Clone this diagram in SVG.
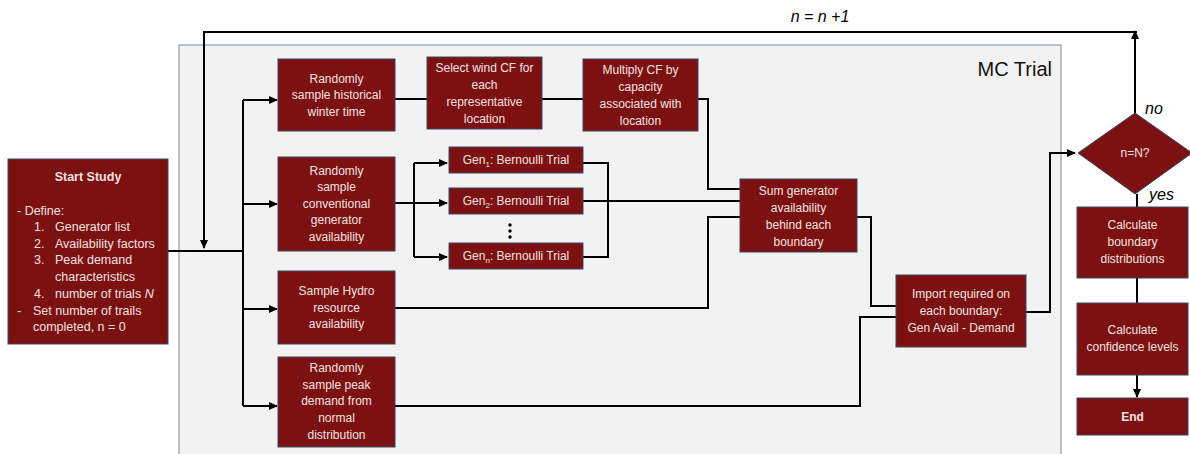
<svg xmlns="http://www.w3.org/2000/svg" width="1190" height="454" viewBox="0 0 1190 454">
<defs>
<style>
.box{fill:#7b1111;stroke:#3a4660;stroke-width:1}
.t{font-family:"Liberation Sans",Arial,sans-serif;font-size:12px;fill:#f3e1e0;text-anchor:middle}
.tl{font-family:"Liberation Sans",Arial,sans-serif;font-size:12.5px;fill:#f3e1e0}
.b{font-weight:bold}
.ln{fill:none;stroke:#000;stroke-width:2}
.lab{font-family:"Liberation Sans",Arial,sans-serif;font-style:italic;font-size:16px;fill:#000}
</style>
<marker id="ah" markerUnits="userSpaceOnUse" markerWidth="9" markerHeight="8" refX="8" refY="4" orient="auto">
<path d="M0,0 L9,4 L0,8 z" fill="#000"/>
</marker>
</defs>
<rect width="1190" height="454" fill="#fff"/>
<g id="mc-trial">
<rect x="179" y="45" width="882" height="412" fill="#f2f2f2" stroke="#8a9bb3" stroke-width="1.2"/>
<text x="1052" y="76" font-family="Liberation Sans,Arial,sans-serif" font-size="20" text-anchor="end" fill="#111">MC Trial</text>
</g>
<g id="connectors">
<path class="ln" d="M1135,113 L1135,31" marker-end="url(#ah)"/>
<path class="ln" d="M1137,32 L204,32 L204,248" marker-end="url(#ah)"/>
<path class="ln" d="M168,251 L243,251"/>
<path class="ln" d="M243,100 L243,406"/>
<path class="ln" d="M243,100 L277,100" marker-end="url(#ah)"/>
<path class="ln" d="M243,204 L277,204" marker-end="url(#ah)"/>
<path class="ln" d="M243,309 L277,309" marker-end="url(#ah)"/>
<path class="ln" d="M243,406 L277,406" marker-end="url(#ah)"/>
<path class="ln" d="M395,99 L427,99"/>
<path class="ln" d="M542,99 L583,99"/>
<path class="ln" d="M698,99 L708,99 L708,189 L740,189"/>
<path class="ln" d="M395,203 L447,203" marker-end="url(#ah)"/>
<path class="ln" d="M414,163 L414,257"/>
<path class="ln" d="M414,163 L447,163" marker-end="url(#ah)"/>
<path class="ln" d="M414,257 L447,257" marker-end="url(#ah)"/>
<path class="ln" d="M583,163 L608,163 L608,257 L583,257"/>
<path class="ln" d="M583,201 L740,201"/>
<path class="ln" d="M395,308 L708,308 L708,217 L740,217"/>
<path class="ln" d="M857,217 L871,217 L871,306 L896,306"/>
<path class="ln" d="M395,406 L860,406 L860,317 L896,317"/>
<path class="ln" d="M1026,312 L1050,312 L1050,153 L1075,153" marker-end="url(#ah)"/>
<path class="ln" d="M1137,194 L1137,207"/>
<path class="ln" d="M1137,278 L1137,303"/>
<path class="ln" d="M1137,375 L1137,397" marker-end="url(#ah)"/>
</g>
<g id="labels">
<text class="lab" x="820" y="22" text-anchor="middle">n = n +1</text>
<text class="lab" x="1145" y="114">no</text>
<text class="lab" x="1149" y="200">yes</text>
</g>
<g id="start">
<rect class="box" x="8" y="159" width="160" height="185"/>
<text class="tl b" x="88" y="181" text-anchor="middle">Start Study</text>
<text class="tl" x="17" y="215">- Define:</text>
<text class="tl" x="34" y="231">1.</text><text class="tl" x="55" y="231">Generator list</text>
<text class="tl" x="34" y="248">2.</text><text class="tl" x="55" y="248">Availability factors</text>
<text class="tl" x="34" y="264">3.</text><text class="tl" x="55" y="264">Peak demand</text>
<text class="tl" x="55" y="281">characteristics</text>
<text class="tl" x="34" y="298">4.</text><text class="tl" x="55" y="298">number of trials <tspan font-style="italic">N</tspan></text>
<text class="tl" x="17" y="315">-</text><text class="tl" x="33" y="315">Set number of trails</text>
<text class="tl" x="33" y="331">completed, n = 0</text>
</g>
<g id="historical">
<rect class="box" x="278" y="59" width="117" height="72"/>
<text class="t" x="336.5" y="83">Randomly</text>
<text class="t" x="336.5" y="99">sample historical</text>
<text class="t" x="336.5" y="116">winter time</text>
</g>
<g id="wind">
<rect class="box" x="427" y="57" width="115" height="72"/>
<text class="t" x="484.5" y="72">Select wind CF for</text>
<text class="t" x="484.5" y="89">each</text>
<text class="t" x="484.5" y="106">representative</text>
<text class="t" x="484.5" y="123">location</text>
</g>
<g id="multiply">
<rect class="box" x="583" y="59" width="115" height="72"/>
<text class="t" x="640.5" y="74">Multiply CF by</text>
<text class="t" x="640.5" y="91">capacity</text>
<text class="t" x="640.5" y="108">associated with</text>
<text class="t" x="640.5" y="125">location</text>
</g>
<g id="conventional">
<rect class="box" x="278" y="157" width="117" height="94"/>
<text class="t" x="336.5" y="175">Randomly</text>
<text class="t" x="336.5" y="191">sample</text>
<text class="t" x="336.5" y="208">conventional</text>
<text class="t" x="336.5" y="224">generator</text>
<text class="t" x="336.5" y="241">availability</text>
</g>
<g id="gen1">
<rect class="box" x="449" y="147" width="134" height="26"/>
<text class="t" x="516" y="164">Gen<tspan font-size="8" dy="3">1</tspan><tspan dy="-3">: Bernoulli Trial</tspan></text>
</g>
<g id="gen2">
<rect class="box" x="449" y="188" width="134" height="26"/>
<text class="t" x="516" y="205">Gen<tspan font-size="8" dy="3">2</tspan><tspan dy="-3">: Bernoulli Trial</tspan></text>
</g>
<g id="dots">
<circle cx="510" cy="225" r="1.7" fill="#000"/>
<circle cx="510" cy="231" r="1.7" fill="#000"/>
<circle cx="510" cy="237" r="1.7" fill="#000"/>
</g>
<g id="genn">
<rect class="box" x="449" y="243" width="134" height="26"/>
<text class="t" x="516" y="260">Gen<tspan font-size="8" dy="3">n</tspan><tspan dy="-3">: Bernoulli Trial</tspan></text>
</g>
<g id="hydro">
<rect class="box" x="278" y="271" width="117" height="73"/>
<text class="t" x="336.5" y="295">Sample Hydro</text>
<text class="t" x="336.5" y="312">resource</text>
<text class="t" x="336.5" y="328">availability</text>
</g>
<g id="peak">
<rect class="box" x="278" y="357" width="117" height="90"/>
<text class="t" x="336.5" y="372">Randomly</text>
<text class="t" x="336.5" y="389">sample peak</text>
<text class="t" x="336.5" y="405">demand from</text>
<text class="t" x="336.5" y="422">normal</text>
<text class="t" x="336.5" y="439">distribution</text>
</g>
<g id="sum">
<rect class="box" x="740" y="179" width="117" height="73"/>
<text class="t" x="798.5" y="195">Sum generator</text>
<text class="t" x="798.5" y="212">availability</text>
<text class="t" x="798.5" y="229">behind each</text>
<text class="t" x="798.5" y="246">boundary</text>
</g>
<g id="import">
<rect class="box" x="896" y="275" width="130" height="72"/>
<text class="t" x="961" y="298">Import required on</text>
<text class="t" x="961" y="315">each boundary:</text>
<text class="t" x="961" y="332">Gen Avail - Demand</text>
</g>
<g id="decision">
<path class="box" d="M1135,113 L1192,153 L1135,194 L1078,153 Z"/>
<text class="t" x="1135" y="157" font-size="11">n=N?</text>
</g>
<g id="calc-boundary">
<rect class="box" x="1077" y="207" width="111" height="71"/>
<text class="t" x="1132.5" y="229">Calculate</text>
<text class="t" x="1132.5" y="246">boundary</text>
<text class="t" x="1132.5" y="263">distributions</text>
</g>
<g id="calc-confidence">
<rect class="box" x="1077" y="303" width="111" height="72"/>
<text class="t" x="1132.5" y="334">Calculate</text>
<text class="t" x="1132.5" y="351">confidence levels</text>
</g>
<g id="end">
<rect class="box" x="1077" y="398" width="111" height="37"/>
<text class="t b" x="1132.5" y="421">End</text>
</g>
</svg>
